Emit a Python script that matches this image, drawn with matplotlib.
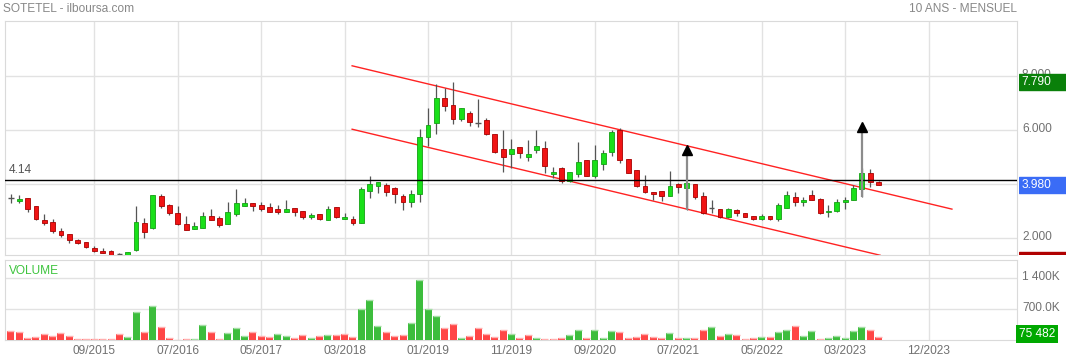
import matplotlib
matplotlib.use('Agg')
import matplotlib.pyplot as plt
from matplotlib.transforms import ScaledTranslation

plt.rcParams['font.family'] = ['Liberation Sans', 'DejaVu Sans']

# ==========================================
# 1. DONNÉES
# ==========================================
titre = 'SOTETEL - ilboursa.com'
periode = '10 ANS - MENSUEL'

# bougies mensuelles, de 11/2014 à 07/2023
opens = [3.47, 3.38, 3.47, 3.19, 2.67, 2.59, 2.26, 2.15, 1.93, 1.85,
         1.63, 1.52, 1.52, 1.40, 1.31, 1.56, 2.54, 2.38, 3.56, 3.22,
         2.91, 2.51, 2.35, 2.38, 2.80, 2.73, 2.53, 2.90, 3.20, 3.28,
         3.21, 3.14, 3.06, 2.97, 3.10, 3.00, 2.79, 2.88, 2.65, 3.14,
         2.72, 2.70, 2.54, 3.75, 3.94, 3.96, 3.84, 3.56, 3.35, 3.62,
         5.75, 6.25, 7.17, 6.91, 6.40, 6.62, 6.25, 6.37, 5.84, 5.30,
         5.10, 5.37, 4.99, 5.25, 5.32, 4.38, 4.61, 4.13, 4.36, 4.88,
         4.31, 4.73, 5.17, 6.00, 4.91, 4.52, 3.93, 3.69, 3.73, 3.57,
         4.00, 3.86, 4.00, 3.56, 3.10, 3.06, 2.78, 3.04, 2.91, 2.81,
         2.72, 2.81, 2.69, 3.12, 3.53, 3.35, 3.61, 3.43, 2.95, 3.01,
         3.32, 3.39, 3.83, 4.42, 4.07]
highs = [3.62, 3.59, 3.50, 3.20, 2.89, 2.70, 2.36, 2.16, 1.96, 1.87,
         1.70, 1.62, 1.55, 1.45, 1.48, 3.20, 2.73, 3.58, 3.63, 3.26,
         3.19, 2.81, 2.59, 2.96, 3.07, 2.80, 3.33, 3.81, 3.47, 3.30,
         3.33, 3.28, 3.22, 3.41, 3.10, 3.00, 2.93, 2.88, 3.19, 3.16,
         2.91, 2.81, 3.90, 4.30, 4.08, 4.02, 3.90, 3.63, 3.78, 6.04,
         6.80, 7.69, 7.57, 7.79, 6.80, 6.70, 7.15, 6.43, 5.84, 6.00,
         5.67, 5.37, 5.63, 6.00, 5.59, 4.64, 4.62, 4.43, 5.54, 4.88,
         5.44, 5.26, 6.00, 6.06, 4.91, 4.52, 4.33, 3.72, 3.73, 4.48,
         4.02, 4.05, 4.00, 3.72, 3.41, 3.07, 3.12, 3.06, 2.93, 2.83,
         2.89, 2.83, 3.28, 3.74, 3.70, 3.53, 3.78, 3.50, 3.22, 3.43,
         3.51, 3.96, 4.60, 4.55, 4.10]
lows = [3.31, 3.28, 2.97, 2.65, 2.50, 2.19, 2.03, 1.83, 1.78, 1.64,
        1.48, 1.44, 1.35, 1.33, 1.30, 1.53, 2.01, 2.32, 3.10, 2.85,
        2.48, 2.28, 2.33, 2.38, 2.66, 2.42, 2.53, 2.83, 3.17, 3.01,
        3.01, 2.97, 2.90, 2.97, 2.83, 2.72, 2.72, 2.68, 2.65, 2.75,
        2.72, 2.48, 2.54, 3.47, 3.65, 3.56, 3.28, 3.04, 3.14, 3.35,
        5.42, 5.85, 6.72, 6.21, 6.35, 6.15, 6.12, 5.80, 5.14, 4.46,
        4.58, 4.97, 4.86, 5.14, 4.40, 4.21, 4.02, 4.07, 4.27, 4.28,
        4.21, 4.52, 5.05, 4.77, 4.40, 3.90, 3.65, 3.41, 3.38, 3.55,
        3.65, 3.04, 3.45, 2.88, 2.94, 2.73, 2.73, 2.81, 2.79, 2.67,
        2.67, 2.67, 2.63, 3.10, 3.20, 3.20, 3.40, 2.88, 2.79, 2.98,
        3.07, 3.39, 3.53, 3.90, 3.98]
closes = [3.47, 3.43, 3.06, 2.72, 2.57, 2.25, 2.12, 1.93, 1.83, 1.68,
          1.53, 1.46, 1.38, 1.40, 1.47, 2.58, 2.21, 3.58, 3.20, 2.94,
          2.51, 2.29, 2.44, 2.80, 2.68, 2.49, 2.95, 3.28, 3.28, 3.20,
          3.09, 2.97, 2.97, 3.06, 2.98, 2.79, 2.84, 2.72, 3.06, 2.78,
          2.78, 2.54, 3.80, 4.00, 4.06, 3.72, 3.62, 3.35, 3.62, 5.73,
          6.19, 7.17, 6.90, 6.40, 6.80, 6.29, 6.25, 5.84, 5.17, 5.00,
          5.30, 5.14, 5.11, 5.40, 4.65, 4.43, 4.12, 4.43, 4.83, 4.28,
          4.88, 5.14, 5.94, 4.89, 4.40, 3.94, 3.69, 3.62, 3.57, 3.93,
          3.88, 4.02, 3.53, 2.91, 3.10, 2.77, 3.06, 2.91, 2.79, 2.72,
          2.81, 2.69, 3.21, 3.58, 3.32, 3.41, 3.40, 2.94, 2.99, 3.32,
          3.39, 3.86, 4.42, 4.07, 3.98]

# volumes en milliers de titres, et sens de la barre (g = hausse, r = baisse)
volumes_k = [203, 179, 62, 86, 148, 109, 172, 101, 39, 39,
             39, 31, 23, 133, 86, 647, 179, 780, 312, 62,
             16, 39, 31, 343, 179, 31, 156, 273, 100, 179,
             94, 78, 133, 101, 47, 125, 62, 101, 125, 125,
             133, 78, 718, 920, 335, 195, 94, 117, 382, 1349,
             718, 546, 273, 374, 62, 109, 289, 133, 70, 226,
             148, 55, 125, 54, 31, 23, 46, 116, 224, 46,
             232, 62, 216, 193, 46, 85, 139, 85, 54, 162,
             46, 46, 46, 240, 309, 108, 139, 124, 31, 46,
             85, 70, 186, 240, 317, 100, 209, 31, 62, 93,
             46, 201, 301, 232, 75.482]
sens_volume = ('rrrrrrrrrrrrrr' + 'ggrgrrrrggrrgg' + 'grrrggrrgrgrrr'
               + 'gggrrrggggrrgr' + 'rrrrgrr'
               + 'grrrggrgggrrrrrrgrgrrgrgrrrgrggrggrgggggrr')

dates_ticks = [10, 20, 30, 40, 50, 60, 70, 80, 90, 100, 110]
dates_labels = ['09/2015', '07/2016', '05/2017', '03/2018', '01/2019', '11/2019',
                '09/2020', '07/2021', '05/2022', '03/2023', '12/2023']

# canal baissier tracé à la main (index du mois, cours)
canal_haut_x = [40.9, 112.8]
canal_haut_y = [8.38, 3.07]
canal_bas_x = [40.9, 104.2]
canal_bas_y = [6.03, 1.36]

# flèches d'objectif
fleches_x = [81, 102]
fleches_depart = [3.04, 3.53]
fleches_cible = [5.42, 6.27]

niveau_ref = 4.14
plus_haut = 7.79
dernier = 3.98
plus_bas = 1.20
dernier_volume = '75 482'

# ==========================================
# 2. FIGURE
# ==========================================
W, H = 1066, 359
fig = plt.figure(figsize=(W / 100, H / 100), dpi=100)
fig.patch.set_facecolor('white')

GRIS_GRILLE = '#e2e2e2'
GRIS_CADRE = '#dadada'
GRIS_TEXTE = '#707070'
FS = 8.6


def px_axes(x0, y0, x1, y1):
    return fig.add_axes([x0 / W, 1 - y1 / H, (x1 - x0) / W, (y1 - y0) / H])


def remonter(labels, px):
    # les étiquettes de droite sont un peu au-dessus de leur ligne
    for lab in labels:
        lab.set_transform(lab.get_transform() + ScaledTranslation(0, px / 100, fig.dpi_scale_trans))


ax = px_axes(5, 21, 1017, 255)
axv = px_axes(5, 259.5, 1017, 340.4)
ax_lab = px_axes(1019, 21, 1066, 255)

n = len(closes)
idx = list(range(n))
xlim = (-0.71, 120.6)

# --- bougies ---
VERT, VERT_BORD = '#19e019', '#14a014'
ROUGE, ROUGE_BORD = '#f01414', '#a80000'
for i in idx:
    o, h, l, c = opens[i], highs[i], lows[i], closes[i]
    ax.vlines(i, l, h, color='#555555', lw=0.9, zorder=3)
    if c == o:
        ax.hlines(c, i - 0.32, i + 0.32, color='#555555', lw=1.0, zorder=4)
        continue
    haut = c > o
    bas = min(o, c)
    hauteur = max(abs(c - o), 0.05)
    ax.bar(i, hauteur, bottom=bas, width=0.58,
           color=VERT if haut else ROUGE,
           edgecolor=VERT_BORD if haut else ROUGE_BORD, lw=0.6, zorder=4)

# --- canal et niveau ---
ax.plot(canal_haut_x, canal_haut_y, color='#ff2222', lw=1.0, zorder=2)
ax.plot(canal_bas_x, canal_bas_y, color='#ff2222', lw=1.0, zorder=2)
ax.axhline(niveau_ref, color='black', lw=1.0, zorder=5)
ax.text(0.004, niveau_ref + 0.14, f'{niveau_ref:.2f}', transform=ax.get_yaxis_transform(),
        fontsize=FS, color='#555555', va='bottom', ha='left')

# --- flèches ---
for fx, f0, f1 in zip(fleches_x, fleches_depart, fleches_cible):
    ax.vlines(fx, f0, f1 - 0.2, color='#8c8c8c', lw=1.6, zorder=6)
    ax.plot(fx, f1 - 0.16, marker='^', ms=6.8, color='black', mec='black', zorder=7)

ax.set_xlim(*xlim)
ax.set_ylim(1.37, 10.04)
ax.set_yticks([2, 4, 6, 8])
ax.set_yticklabels([f'{v:.3f}' for v in [2, 4, 6, 8]])
ax.yaxis.tick_right()
ax.tick_params(axis='y', length=0, pad=3.6, labelsize=FS, labelcolor=GRIS_TEXTE)
remonter(ax.get_yticklabels(), 2.5)
ax.set_xticks(dates_ticks)
ax.tick_params(axis='x', length=0, labelbottom=False)
ax.grid(True, color=GRIS_GRILLE, lw=1.0)
ax.set_axisbelow(True)
for s in ax.spines.values():
    s.set_color(GRIS_CADRE)

# --- étiquettes de droite ---
ax_lab.set_xlim(0, 1)
ax_lab.set_ylim(1.37, 10.04)
ax_lab.axis('off')
for val, txt, coul in [(plus_haut, f'{plus_haut:.3f}', '#0a800a'),
                       (dernier, f'{dernier:.3f}', '#3a6cf6'),
                       (plus_bas, '', '#b00000')]:
    ax_lab.add_patch(plt.Rectangle((0, val - 0.32), 1, 0.60, color=coul, clip_on=True, zorder=3))
    ax_lab.text(0.06, val - 0.02, txt, color='white', fontsize=FS, va='center', ha='left', zorder=4)

# --- volumes ---
COUL_VOL = {'g': '#3dbd3d', 'r': '#ff4646'}
CAP_VOL = {'g': '#a6dea6', 'r': '#ffb0b0'}
axv.bar(idx, volumes_k, width=0.84, color=[COUL_VOL[s] for s in sens_volume], zorder=3)
axv.hlines(volumes_k, [i - 0.42 for i in idx], [i + 0.42 for i in idx],
           colors=[CAP_VOL[s] for s in sens_volume], lw=1.0, zorder=4)
axv.set_xlim(*xlim)
axv.set_ylim(0, 1821)
axv.set_yticks([700, 1400])
axv.set_yticklabels(['700.0K', '1 400K'])
axv.yaxis.tick_right()
axv.tick_params(axis='y', length=0, pad=3.6, labelsize=FS, labelcolor=GRIS_TEXTE)
remonter(axv.get_yticklabels(), 3)
axv.set_xticks(dates_ticks)
axv.set_xticklabels(dates_labels)
axv.tick_params(axis='x', length=0, pad=3, labelsize=FS, labelcolor=GRIS_TEXTE)
axv.grid(True, color=GRIS_GRILLE, lw=1.0)
axv.set_axisbelow(True)
for s in axv.spines.values():
    s.set_color(GRIS_CADRE)
axv.text(0.004, 0.93, 'VOLUME', transform=axv.transAxes, color='#3dc43d',
         fontsize=FS, va='top', ha='left')
axv.text(1.002, 0.0, dernier_volume, transform=axv.transAxes, color='white',
         fontsize=FS, va='bottom', ha='left', zorder=6,
         bbox=dict(boxstyle='square,pad=0.25', fc='#00a800', ec='none'))

# --- titres ---
fig.text(3 / W, 1 - 8.5 / H, titre, fontsize=FS, color='#888888', va='center', ha='left')
fig.text(1017 / W, 1 - 8.5 / H, periode, fontsize=FS, color='#888888', va='center', ha='right')

fig.savefig('out.png', dpi=100, facecolor='white')
